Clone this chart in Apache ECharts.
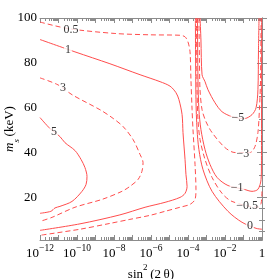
<!DOCTYPE html>
<html><head><meta charset="utf-8">
<script src="https://cdn.jsdelivr.net/npm/echarts@6/dist/echarts.min.js"></script>
<style>html,body{margin:0;padding:0;background:#fff}#c{width:267px;height:279px}</style>
</head><body><div id="c"></div>
<script>
// x values are log10(sin^2(2θ)); y values are m_s in keV
const c05X = [-12, -10.49, -7.95, -6.05, -4.43, -4.16, -4.0, -3.89, -3.84, -3.78, -3.73, -3.62, -3.57, -3.62, -3.89, -4.43, -5.24, -6.05, -7.14, -8.22, -9.84, -12];
const c05Y = [98.2, 95.3, 93.1, 92.5, 92.3, 91.6, 89.3, 84.9, 72.4, 59.1, 50.2, 34.7, 23.6, 19.1, 16.9, 15.6, 13.8, 12.0, 10.2, 8.4, 5.8, 3.1];
const c1X = [-12, -10.11, -8.22, -6.59, -5.51, -4.97, -4.65, -4.49, -4.32, -4.27, -4.16, -4.11, -4.05, -4.16, -4.43, -5.24, -6.32, -7.68, -9.84, -12];
const c1Y = [90.4, 84.9, 79.6, 74.7, 71.6, 69.6, 66.7, 63.6, 56.9, 48.9, 36.9, 30.2, 24.9, 21.8, 20.0, 17.8, 15.6, 12.2, 8.2, 5.3];
const c3X = [-12, -11.03, -10.27, -8.76, -8.11, -7.51, -6.97, -6.59, -6.43, -6.49, -6.70, -7.14, -7.57, -8.65, -10.11, -11.35, -12];
const c3Y = [73.3, 70.2, 65.8, 59.1, 55.6, 51.6, 45.8, 39.1, 35.6, 31.6, 28.0, 24.9, 22.7, 19.1, 15.6, 11.1, 9.3];
const c5X = [-12, -11.46, -10.92, -10.65, -10.11, -9.78, -9.57, -9.46, -9.51, -9.73, -10.27, -10.92, -11.19, -11.41, -12];
const c5Y = [55.6, 50.7, 47.1, 44.4, 40.9, 36.9, 33.3, 29.3, 25.8, 22.7, 18.2, 16.0, 15.3, 13.8, 12.9];
const cm5X = [-3.35, -3.30, -3.24, -3.08, -2.92, -2.54, -2.16, -1.62, -0.97, -0.54, -0.32, -0.22, -0.19, -0.16];
const cm5Y = [100, 90.2, 74.7, 71.6, 68.0, 62.2, 58.2, 56.0, 55.1, 56.9, 60.0, 68.0, 85.8, 100];
const cm3X = [-3.41, -3.38, -3.35, -3.24, -3.03, -2.70, -2.00, -1.46, -0.65, -0.38, -0.22, -0.14, -0.08, -0.05];
const cm3Y = [100, 81.3, 68.0, 59.1, 53.8, 48.9, 42.2, 40.0, 40.0, 42.7, 48.9, 59.1, 72.4, 100];
const cm1X = [-3.49, -3.46, -3.41, -3.30, -3.08, -2.81, -2.43, -1.84, -0.97, -0.54, -0.22, -0.05, -0.03, -0.02];
const cm1Y = [100, 72.4, 59.1, 50.2, 41.3, 34.7, 28.9, 25.3, 23.6, 22.7, 23.6, 28.0, 34.7, 100];
const cm05X = [-3.54, -3.51, -3.46, -3.35, -3.08, -2.70, -2.16, -1.62, -0.22, -0.05, 0];
const cm05Y = [100, 68.0, 54.7, 45.8, 36.9, 28.9, 21.8, 18.2, 15.6, 17.3, 23.6];
const c0X = [-3.60, -3.57, -3.51, -3.41, -3.19, -2.70, -1.84, -1.08, -0.32, 0];
const c0Y = [100, 63.6, 50.2, 41.3, 32.4, 22.7, 13.8, 8.9, 6.2, 5.8];

const contourLabels = ['0.5', '1', '3', '5', '\u22125', '\u22123', '\u22121', '\u22120.5', '0'];
const contourLabelX = [-10.32, -10.49, -10.76, -11.24, -1.30, -1.03, -1.35, -0.81, -0.65];
const contourLabelY = [94.7, 86.0, 68.7, 49.3, 55.3, 39.3, 24.4, 16.4, 7.3];

const xLabelTicks = [-12, -10, -8, -6, -4, -2, 0];
const yLabelTicks = [20, 40, 60, 80, 100];

const majorX = []; for (let n = -12; n <= 0; n++) majorX.push(n);
const minorX = []; for (let n = -12; n < 0; n++) for (let k = 2; k <= 9; k++) minorX.push(n + Math.log10(k));
const minorY = []; for (let v = 5; v < 100; v += 5) if (v % 20) minorY.push(v);

const RED = '#ff4d4d';
const AX = '#8c8c8c';
const serif = 'Liberation Serif';
const XMIN = -12, XMAX = 0, YMIN = 1, YMAX = 100;

function xAx(grid, pos, ticks, len, main) {
  return {
    type: 'value', gridIndex: grid, position: pos, min: XMIN, max: XMAX,
    axisLine: {show: main, lineStyle: {color: AX, width: 1}},
    axisTick: {show: true, inside: true, length: len, customValues: ticks, lineStyle: {color: AX, width: 1}},
    splitLine: {show: false},
    axisLabel: {show: false}
  };
}
function yAx(grid, pos, ticks, len, main) {
  return {
    type: 'value', gridIndex: grid, position: pos, min: YMIN, max: YMAX,
    axisLine: {show: main, lineStyle: {color: AX, width: 1}},
    axisTick: {show: true, inside: true, length: len, customValues: ticks, lineStyle: {color: AX, width: 1}},
    splitLine: {show: false},
    axisLabel: {show: false}
  };
}

const xBottom = xAx(0, 'bottom', majorX, 5, true);
xBottom.axisLabel = {
  show: true, customValues: xLabelTicks, margin: 3,
  formatter: v => v === 0 ? '{b|1}' : '{b|10}{s|\u2212' + (-v) + '}',
  rich: {
    b: {fontSize: 13, fontFamily: serif, color: '#000', lineHeight: 22, verticalAlign: 'middle'},
    s: {fontSize: 9.5, fontFamily: serif, color: '#000', lineHeight: 10, verticalAlign: 'top'}
  }
};
xBottom.name = '{t|sin}{p|2}{t|\u2009(2\u2009\u03b8)}';
xBottom.nameLocation = 'middle';
xBottom.nameGap = 23;
xBottom.nameMoveOverlap = false;
xBottom.nameTextStyle = {
  rich: {
    t: {fontSize: 13, fontFamily: serif, color: '#000', lineHeight: 18, verticalAlign: 'bottom'},
    p: {fontSize: 9, fontFamily: serif, color: '#000', lineHeight: 9, verticalAlign: 'top'}
  }
};

const yLeft = yAx(0, 'left', yLabelTicks, 5, true);
yLeft.axisLabel = {show: true, customValues: yLabelTicks, margin: 3, fontSize: 13, fontFamily: serif, color: '#000'};
yLeft.name = '{i|m}{s|s}{t|\u2009(keV)}';
yLeft.nameLocation = 'middle';
yLeft.nameGap = 19;
yLeft.nameMoveOverlap = false;
yLeft.nameTextStyle = {
  rich: {
    i: {fontSize: 13, fontFamily: serif, fontStyle: 'italic', color: '#000', lineHeight: 18, verticalAlign: 'top'},
    s: {fontSize: 9, fontFamily: serif, fontStyle: 'italic', color: '#000', lineHeight: 9, verticalAlign: 'bottom'},
    t: {fontSize: 13, fontFamily: serif, color: '#000', lineHeight: 18, verticalAlign: 'top'}
  }
};

function contour(xs, ys, dashed) {
  return {
    type: 'line', xAxisIndex: 0, yAxisIndex: 0,
    data: xs.map((x, i) => [x, ys[i]]),
    showSymbol: false, symbol: 'none', smooth: 0.3, clip: true, silent: true,
    lineStyle: {color: RED, width: 1, type: dashed ? [5, 3] : 'solid'},
    z: 3
  };
}

const gridRect = {left: 40, top: 18, width: 222, height: 222, outerBoundsMode: 'none', containLabel: false};

const option = {
  animation: false,
  backgroundColor: '#fff',
  grid: [Object.assign({}, gridRect), Object.assign({}, gridRect)],
  xAxis: [xBottom, xAx(0, 'top', majorX, 5, true), xAx(1, 'bottom', minorX, 3, false), xAx(1, 'top', minorX, 3, false)],
  yAxis: [yLeft, yAx(0, 'right', yLabelTicks, 5, true), yAx(1, 'left', minorY, 3, false), yAx(1, 'right', minorY, 3, false)],
  series: [
    contour(c05X, c05Y, true),
    contour(c1X, c1Y, false),
    contour(c3X, c3Y, true),
    contour(c5X, c5Y, false),
    contour(cm5X, cm5Y, false),
    contour(cm3X, cm3Y, true),
    contour(cm1X, cm1Y, false),
    contour(cm05X, cm05Y, true),
    contour(c0X, c0Y, false),
    {
      type: 'scatter', xAxisIndex: 0, yAxisIndex: 0, silent: true, z: 10,
      symbol: 'circle', symbolSize: 1, itemStyle: {color: 'rgba(0,0,0,0)'},
      data: contourLabels.map((n, i) => ({name: n, value: [contourLabelX[i], contourLabelY[i]]})),
      label: {show: true, position: 'inside', formatter: '{b}', color: '#000', fontSize: 12,
        fontFamily: serif, backgroundColor: '#fff', padding: [0, 1]}
    }
  ]
};
const chart = echarts.init(document.getElementById('c'));
chart.setOption(option);
</script></body></html>
